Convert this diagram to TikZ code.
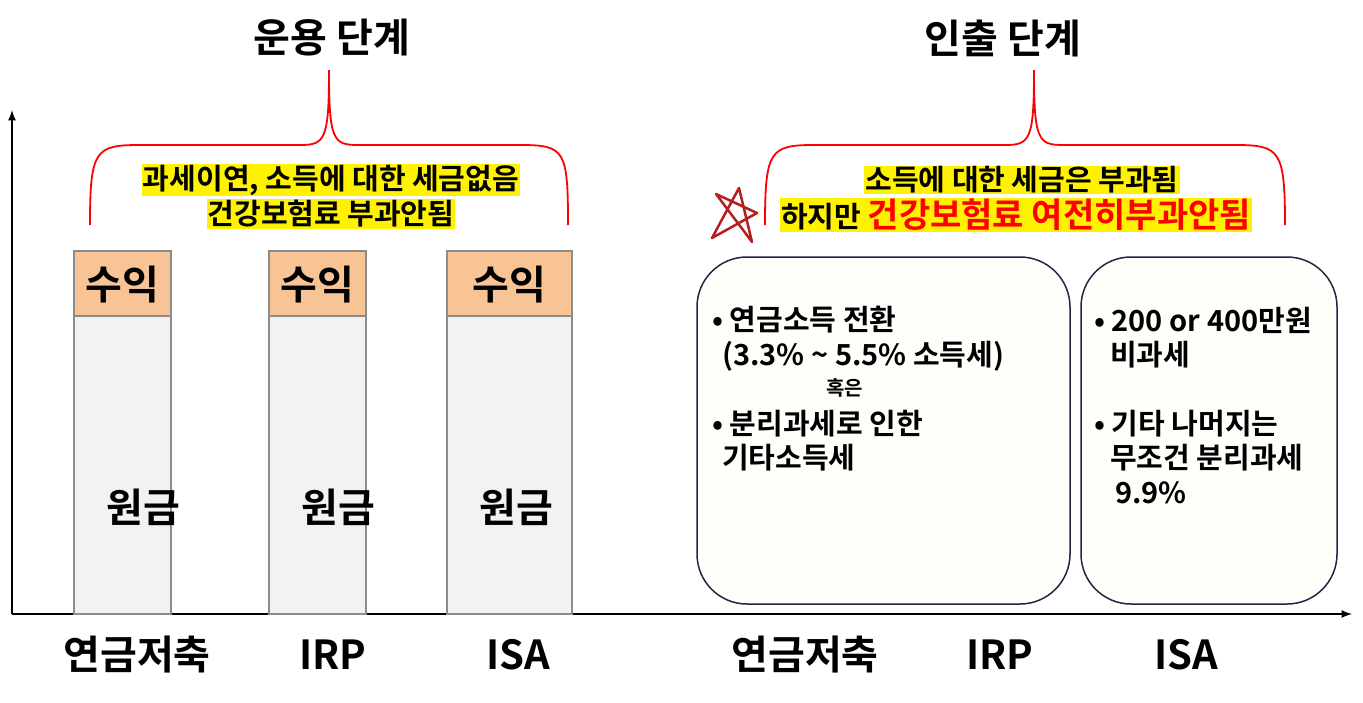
\documentclass[tikz,border=0pt]{standalone}
\usepackage{fontspec}
\newfontfamily\kr{Noto Sans CJK KR}[BoldFont={Noto Sans CJK KR Bold}]
\definecolor{starred}{RGB}{180,30,30}
\definecolor{gainc}{RGB}{248,196,150}
\definecolor{navy}{RGB}{30,40,70}
\definecolor{boxbg}{RGB}{254,254,250}
\begin{document}
\begin{tikzpicture}[x=1pt,y=-1pt,font=\kr\bfseries,
  bar/.style={draw=gray!90,line width=1.5pt,fill=black!5},
  gain/.style={draw=gray!90,line width=1.5pt,fill=gainc},
  big/.style={font=\kr\bfseries\fontsize{40}{44}\selectfont},
  hl/.style={fill=yellow,inner sep=1pt,font=\kr\bfseries\fontsize{29}{32}\selectfont},
  txt/.style={anchor=west,inner sep=0pt,font=\kr\bfseries\fontsize{29}{32}\selectfont},
  brace/.style={draw=red,line width=1.8pt},
  rbox/.style={draw=navy,line width=1.5pt,rounded corners=50pt,fill=boxbg}]
\useasboundingbox (0,0) rectangle (1363,702);
% axes
\coordinate (o) at (12,614); \coordinate (yt) at (12,110); \coordinate (xt) at (1352,614);
\draw[line width=2.5pt,-latex] (o) -- (yt);
\draw[line width=2.5pt,-latex] (o) -- (xt);
% bars
\foreach \n/\a/\b in {1/74/171,2/269/366,3/447/572}{
  \draw[bar] (\a,316) rectangle (\b,614);
  \draw[gain] (\a,251) rectangle (\b,316);
  \node[big] (g\n) at ({(\a+\b)/2},285) {수익};
}
\node[big] (p1) at (143,507) {원금};
\node[big] (p2) at (338,507) {원금};
\node[big] (p3) at (516,507) {원금};
% labels
\node[big] (l1) at (137,655) {연금저축};
\node[big] (l2) at (333,655) {IRP};
\node[big] (l3) at (518,655) {ISA};
\node[big] (l4) at (805,655) {연금저축};
\node[big] (l5) at (1000,655) {IRP};
\node[big] (l6) at (1186,655) {ISA};
% titles
\node[big] (t1) at (332,38) {운용 단계};
\node[big] (t2) at (1003,38) {인출 단계};
% braces
\draw[brace] (90,225) .. controls (90,150) and (95,145) .. (140,145) -- (300,145)
  .. controls (325,145) and (329,140) .. (329,70)
  .. controls (329,140) and (333,145) .. (358,145) -- (520,145)
  .. controls (565,145) and (568,150) .. (568,225);
\draw[brace] (765,225) .. controls (765,150) and (770,145) .. (815,145) -- (1005,145)
  .. controls (1030,145) and (1034,140) .. (1034,70)
  .. controls (1034,140) and (1038,145) .. (1063,145) -- (1235,145)
  .. controls (1280,145) and (1285,150) .. (1285,225);
\node[hl] (h1) at (331,180) {과세이연, 소득에 대한 세금없음};
\node[hl] (h2) at (331,214) {건강보험료 부과안됨};
\node[hl] (h3) at (1022,180) {소득에 대한 세금은 부과됨};
\node[hl] (h4) at (1016,215) {하지만 {\color{red}\fontsize{34}{36}\selectfont 건강보험료 여전히부과안됨}};
% star
\draw[line width=2.5pt,starred,line join=round]
  (716,194) -- (752,242) -- (739,188) -- (712,238) -- (757,213) -- cycle;
% boxes
\draw[rbox] (697,257) rectangle (1070,604);
\draw[rbox] (1081,257) rectangle (1337,604);
\node[txt] (a1) at (712,320) {• 연금소득 전환};
\node[txt] (a2) at (722,356) {(3.3\% \textasciitilde{} 5.5\% 소득세)};
\node[txt,font=\kr\bfseries\fontsize{20}{22}\selectfont] (a3) at (826,388) {혹은};
\node[txt] (a4) at (712,424) {• 분리과세로 인한};
\node[txt] (a5) at (722,458) {기타소득세};
\node[txt] (b1) at (1094,320) {• 200 or 400만원};
\node[txt] (b2) at (1110,355) {비과세};
\node[txt] (b3) at (1094,424) {• 기타 나머지는};
\node[txt] (b4) at (1110,458) {무조건 분리과세};
\node[txt] (b5) at (1115,493) {9.9\%};
\end{tikzpicture}
\end{document}
